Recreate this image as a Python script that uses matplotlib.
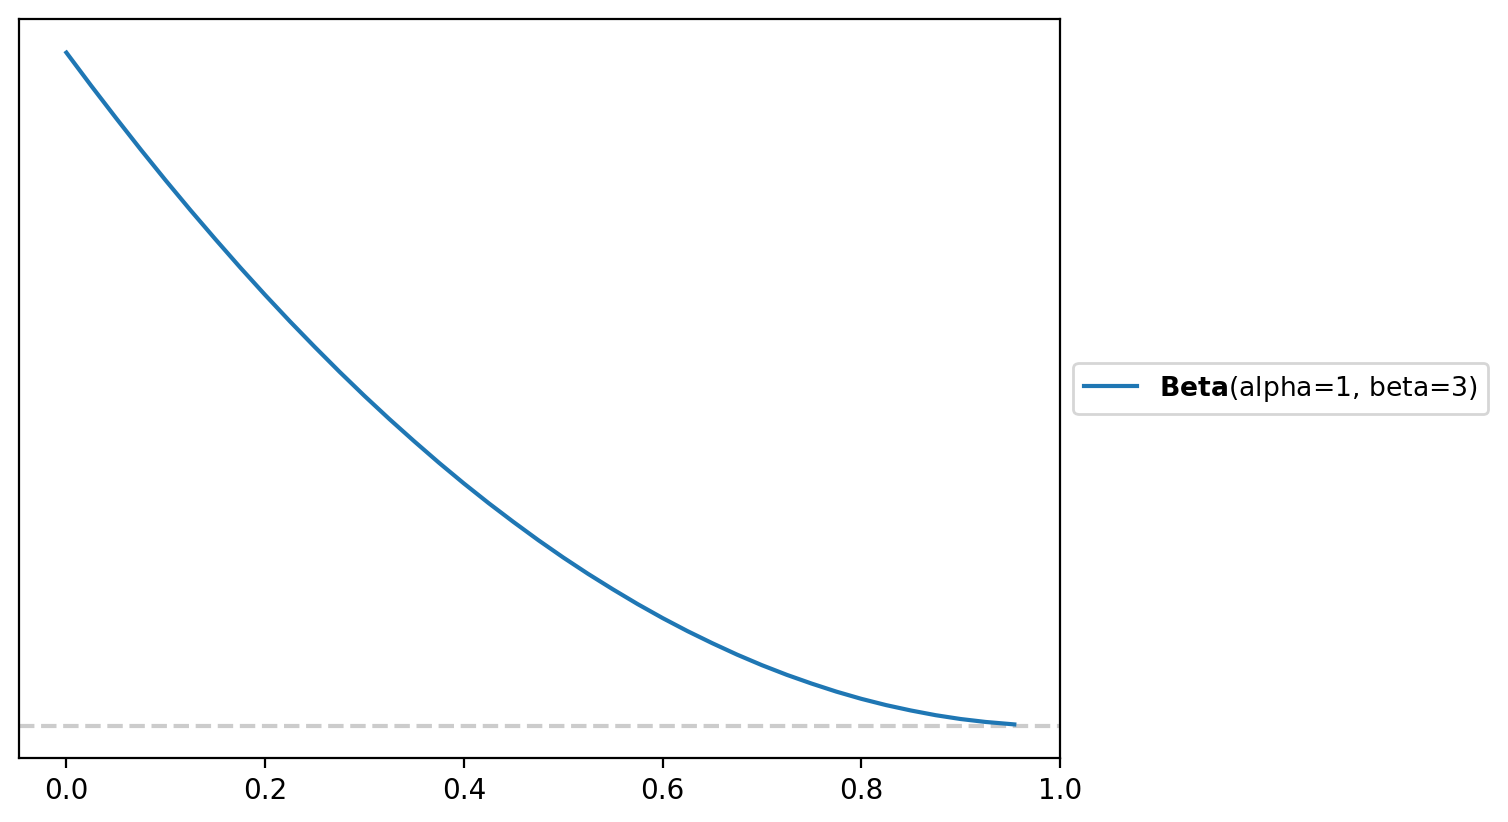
import matplotlib
matplotlib.use("Agg")
import matplotlib.pyplot as plt

# values
x_vals = [0.0, 0.025, 0.05, 0.075, 0.10, 0.125, 0.15, 0.175, 0.20, 0.225,
          0.25, 0.275, 0.30, 0.325, 0.35, 0.375, 0.40, 0.425, 0.45, 0.475,
          0.50, 0.525, 0.55, 0.575, 0.60, 0.625, 0.65, 0.675, 0.70, 0.725,
          0.75, 0.775, 0.80, 0.825, 0.85, 0.875, 0.90, 0.925, 0.954]
pdf_vals = [3.000, 2.852, 2.708, 2.567, 2.430, 2.297, 2.168, 2.042, 1.920, 1.802,
            1.688, 1.577, 1.470, 1.367, 1.268, 1.172, 1.080, 0.992, 0.908, 0.827,
            0.750, 0.677, 0.608, 0.542, 0.480, 0.422, 0.368, 0.317, 0.270, 0.227,
            0.188, 0.152, 0.120, 0.092, 0.068, 0.047, 0.030, 0.017, 0.006]
label = r"$\bf{Beta}$(alpha=1, beta=3)"

fig = plt.figure(figsize=(7.54, 4.11), dpi=200)
ax = fig.add_axes([19 / 1508, 1 - 758 / 822, (1060 - 19) / 1508, (758 - 19) / 822])

ax.plot(x_vals, pdf_vals, color="#1f77b4", label=label)
ax.axhline(0, color="0.8", ls="--", zorder=0)
ax.set_xlim(right=1.0)
ax.set_yticks([])

ax.legend(loc="center left", bbox_to_anchor=(1, 0.5), fontsize=9.6)

fig.savefig("out.png", dpi=200)
